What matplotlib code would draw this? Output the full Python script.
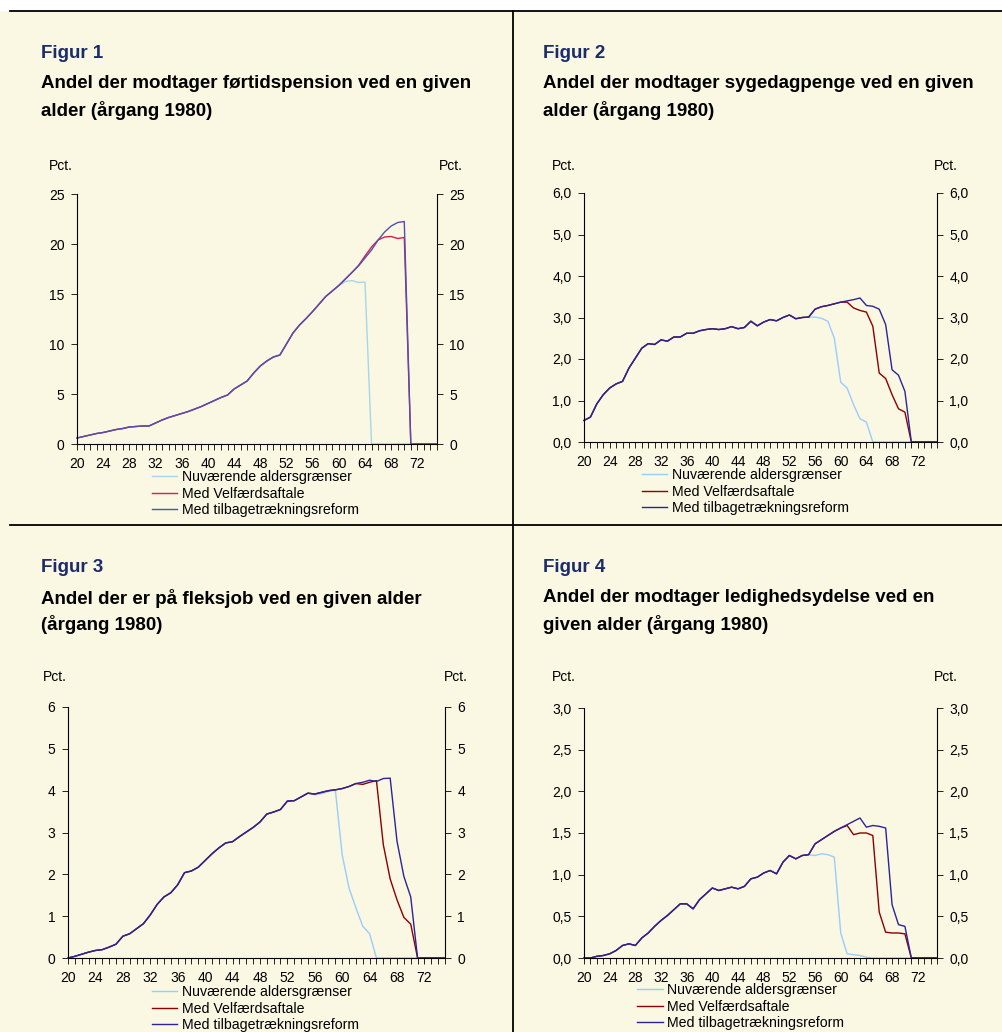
import matplotlib
matplotlib.use("Agg")
import matplotlib.pyplot as plt
from matplotlib.lines import Line2D
from matplotlib.patches import Rectangle
from matplotlib.ticker import FuncFormatter

plt.rcParams["font.family"] = ["Liberation Sans", "DejaVu Sans"]

W, H = 1003, 1032
CREAM = "#FAF8E2"
NAVY = "#1B2C6B"

# --- data, ages 20..75 ---
ages = list(range(20, 76))
series_names = ["Nuværende aldersgrænser", "Med Velfærdsaftale",
                "Med tilbagetrækningsreform"]

# Figur 1: førtidspension
fp_now = [0.6, 0.75, 0.9, 1.05, 1.15, 1.3, 1.45, 1.55, 1.7, 1.75,
          1.8, 1.8, 2.1, 2.4, 2.65, 2.85, 3.05, 3.25, 3.5, 3.75,
          4.05, 4.35, 4.65, 4.9, 5.5, 5.9, 6.3, 7.1, 7.8, 8.3,
          8.7, 8.9, 10.0, 11.1, 11.9, 12.55, 13.25, 14.0, 14.75, 15.3,
          15.85, 16.25, 16.35, 16.15, 16.2, 0, 0, 0, 0, 0,
          0, 0, 0, 0, 0, 0]
fp_velf = [0.6, 0.75, 0.9, 1.05, 1.15, 1.3, 1.45, 1.55, 1.7, 1.75,
           1.8, 1.8, 2.1, 2.4, 2.65, 2.85, 3.05, 3.25, 3.5, 3.75,
           4.05, 4.35, 4.65, 4.9, 5.5, 5.9, 6.3, 7.1, 7.8, 8.3,
           8.7, 8.9, 10.0, 11.1, 11.9, 12.55, 13.25, 14.0, 14.75, 15.3,
           15.85, 16.5, 17.15, 17.85, 18.8, 19.7, 20.4, 20.7, 20.75, 20.55,
           20.65, 0, 0, 0, 0, 0]
fp_reform = [0.6, 0.75, 0.9, 1.05, 1.15, 1.3, 1.45, 1.55, 1.7, 1.75,
             1.8, 1.8, 2.1, 2.4, 2.65, 2.85, 3.05, 3.25, 3.5, 3.75,
             4.05, 4.35, 4.65, 4.9, 5.5, 5.9, 6.3, 7.1, 7.8, 8.3,
             8.7, 8.9, 10.0, 11.1, 11.9, 12.55, 13.25, 14.0, 14.75, 15.3,
             15.85, 16.5, 17.15, 17.8, 18.6, 19.4, 20.4, 21.2, 21.8, 22.15,
             22.25, 0, 0, 0, 0, 0]

# Figur 2: sygedagpenge
sd_now = [0.52, 0.6, 0.92, 1.14, 1.3, 1.4, 1.46, 1.78, 2.02, 2.26,
          2.37, 2.35, 2.46, 2.43, 2.53, 2.53, 2.62, 2.62, 2.68, 2.71,
          2.73, 2.71, 2.73, 2.78, 2.73, 2.76, 2.91, 2.8, 2.89, 2.95,
          2.92, 3.0, 3.06, 2.97, 3.0, 3.01, 3.01, 2.98, 2.91, 2.5,
          1.44, 1.3, 0.9, 0.56, 0.48, 0, 0, 0, 0, 0,
          0, 0, 0, 0, 0, 0]
sd_velf = [0.52, 0.6, 0.92, 1.14, 1.3, 1.4, 1.46, 1.78, 2.02, 2.26,
           2.37, 2.35, 2.46, 2.43, 2.53, 2.53, 2.62, 2.62, 2.68, 2.71,
           2.73, 2.71, 2.73, 2.78, 2.73, 2.76, 2.91, 2.8, 2.89, 2.95,
           2.92, 3.0, 3.06, 2.97, 3.0, 3.01, 3.2, 3.26, 3.29, 3.33,
           3.37, 3.37, 3.23, 3.17, 3.13, 2.79, 1.66, 1.53, 1.14, 0.8,
           0.72, 0, 0, 0, 0, 0]
sd_reform = [0.52, 0.6, 0.92, 1.14, 1.3, 1.4, 1.46, 1.78, 2.02, 2.26,
             2.37, 2.35, 2.46, 2.43, 2.53, 2.53, 2.62, 2.62, 2.68, 2.71,
             2.73, 2.71, 2.73, 2.78, 2.73, 2.76, 2.91, 2.8, 2.89, 2.95,
             2.92, 3.0, 3.06, 2.97, 3.0, 3.01, 3.2, 3.26, 3.29, 3.33,
             3.37, 3.4, 3.43, 3.47, 3.29, 3.27, 3.2, 2.83, 1.74, 1.61,
             1.22, 0, 0, 0, 0, 0]

# Figur 3: fleksjob
fj_now = [0, 0.04, 0.09, 0.14, 0.18, 0.2, 0.26, 0.33, 0.52, 0.58,
          0.7, 0.82, 1.03, 1.28, 1.46, 1.56, 1.75, 2.04, 2.08, 2.17,
          2.33, 2.49, 2.63, 2.75, 2.78, 2.9, 3.01, 3.12, 3.25, 3.44,
          3.49, 3.55, 3.75, 3.76, 3.85, 3.94, 3.9, 3.93, 3.98, 4.02,
          2.47, 1.67, 1.2, 0.76, 0.58, 0, 0, 0, 0, 0,
          0, 0, 0, 0, 0, 0]
fj_velf = [0, 0.04, 0.09, 0.14, 0.18, 0.2, 0.26, 0.33, 0.52, 0.58,
           0.7, 0.82, 1.03, 1.28, 1.46, 1.56, 1.75, 2.04, 2.08, 2.17,
           2.33, 2.49, 2.63, 2.75, 2.78, 2.9, 3.01, 3.12, 3.25, 3.44,
           3.49, 3.55, 3.75, 3.76, 3.85, 3.94, 3.92, 3.96, 4.0, 4.02,
           4.05, 4.1, 4.17, 4.15, 4.2, 4.24, 2.71, 1.89, 1.39, 0.97,
           0.81, 0, 0, 0, 0, 0]
fj_reform = [0, 0.04, 0.09, 0.14, 0.18, 0.2, 0.26, 0.33, 0.52, 0.58,
             0.7, 0.82, 1.03, 1.28, 1.46, 1.56, 1.75, 2.04, 2.08, 2.17,
             2.33, 2.49, 2.63, 2.75, 2.78, 2.9, 3.01, 3.12, 3.25, 3.44,
             3.49, 3.55, 3.75, 3.76, 3.85, 3.94, 3.92, 3.96, 4.0, 4.02,
             4.05, 4.1, 4.17, 4.2, 4.25, 4.22, 4.29, 4.3, 2.79, 1.95,
             1.46, 0, 0, 0, 0, 0]

# Figur 4: ledighedsydelse
ly_now = [0, 0, 0.02, 0.03, 0.05, 0.09, 0.15, 0.17, 0.15, 0.24,
          0.3, 0.38, 0.45, 0.51, 0.58, 0.65, 0.65, 0.59, 0.7, 0.77,
          0.84, 0.81, 0.83, 0.85, 0.83, 0.86, 0.95, 0.97, 1.02, 1.05,
          1.01, 1.15, 1.23, 1.19, 1.23, 1.24, 1.23, 1.25, 1.24, 1.21,
          0.3, 0.05, 0.04, 0.03, 0.01, 0, 0, 0, 0, 0,
          0, 0, 0, 0, 0, 0]
ly_velf = [0, 0, 0.02, 0.03, 0.05, 0.09, 0.15, 0.17, 0.15, 0.24,
           0.3, 0.38, 0.45, 0.51, 0.58, 0.65, 0.65, 0.59, 0.7, 0.77,
           0.84, 0.81, 0.83, 0.85, 0.83, 0.86, 0.95, 0.97, 1.02, 1.05,
           1.01, 1.15, 1.23, 1.19, 1.23, 1.24, 1.37, 1.42, 1.47, 1.52,
           1.56, 1.59, 1.48, 1.5, 1.5, 1.47, 0.55, 0.31, 0.3, 0.3,
           0.29, 0, 0, 0, 0, 0]
ly_reform = [0, 0, 0.02, 0.03, 0.05, 0.09, 0.15, 0.17, 0.15, 0.24,
             0.3, 0.38, 0.45, 0.51, 0.58, 0.65, 0.65, 0.59, 0.7, 0.77,
             0.84, 0.81, 0.83, 0.85, 0.83, 0.86, 0.95, 0.97, 1.02, 1.05,
             1.01, 1.15, 1.23, 1.19, 1.23, 1.24, 1.37, 1.42, 1.47, 1.52,
             1.56, 1.6, 1.64, 1.68, 1.57, 1.59, 1.58, 1.56, 0.64, 0.4,
             0.38, 0, 0, 0, 0, 0]

COLORS_1 = ["#A6D6EC", "#D02050", "#5050B0"]
COLORS_2 = ["#99CCFF", "#8B0000", "#2B2499"]

fig = plt.figure(figsize=(W / 100, H / 100), dpi=100, facecolor="white")

# cream background and the black frame lines
fig.add_artist(Rectangle((0, 0), 1, 1 - 11 / H, transform=fig.transFigure,
                         facecolor=CREAM, edgecolor="none", zorder=0))
for xs, ys in [([10, W], [11, 11]), ([10, W], [525, 525]), ([513, 513], [11, H])]:
    fig.add_artist(Line2D([x / W for x in xs], [1 - y / H for y in ys],
                          transform=fig.transFigure, color="black", lw=1.3))


def comma(v, pos):
    return f"{v:.1f}".replace(".", ",")


def draw_panel(box, data, colors, ymax, ystep, decimals, fig_label, title,
               head_x, head_y, pct_left, pct_right, pct_y, leg_xy):
    x0, y0, x1, y1 = box
    ax = fig.add_axes([x0 / W, 1 - y1 / H, (x1 - x0) / W, (y1 - y0) / H])
    ax.set_facecolor("none")
    for vals, col in zip(data, colors):
        ax.plot(ages, vals, color=col, lw=1.0, clip_on=False)
    ax.set_xlim(20, 75)
    ax.set_ylim(0, ymax)
    ax.spines["top"].set_visible(False)
    for s in ["left", "right", "bottom"]:
        ax.spines[s].set_linewidth(0.8)
    ax.set_xticks(ages)
    ax.set_xticklabels([str(a) if (a - 20) % 4 == 0 and a <= 72 else "" for a in ages])
    yt = [i * ystep for i in range(int(round(ymax / ystep)) + 1)]
    ax.set_yticks(yt)
    if decimals:
        ax.yaxis.set_major_formatter(FuncFormatter(comma))
    else:
        ax.yaxis.set_major_formatter(FuncFormatter(lambda v, p: f"{v:.0f}"))
    ax.tick_params(axis="x", direction="out", length=4, width=0.6,
                   labelsize=10, pad=5)
    ax.tick_params(axis="y", direction="out", length=4, width=0.6,
                   left=True, right=True, labelleft=True, labelright=True,
                   labelsize=10, pad=5)

    fig.text(head_x / W, 1 - head_y / H, fig_label, color=NAVY,
             fontsize=13.5, fontweight="bold", va="center", ha="left")
    fig.text(head_x / W, 1 - (head_y + 30) / H, title[0], color="black",
             fontsize=13.5, fontweight="bold", va="center", ha="left")
    fig.text(head_x / W, 1 - (head_y + 57) / H, title[1], color="black",
             fontsize=13.5, fontweight="bold", va="center", ha="left")
    fig.text(pct_left / W, 1 - pct_y / H, "Pct.", fontsize=10,
             va="center", ha="left")
    fig.text(pct_right / W, 1 - pct_y / H, "Pct.", fontsize=10,
             va="center", ha="right")

    handles = [Line2D([], [], color=c, lw=1.0) for c in colors]
    ax.legend(handles, series_names, loc="upper left",
              bbox_to_anchor=(leg_xy[0] / W, 1 - leg_xy[1] / H),
              bbox_transform=fig.transFigure, frameon=False, fontsize=10.2,
              handlelength=1.8, handletextpad=0.3, labelspacing=0.18,
              borderpad=0, borderaxespad=0)
    return ax


draw_panel((77, 194, 437, 444), [fp_now, fp_velf, fp_reform], COLORS_1,
           25, 5, False, "Figur 1",
           ["Andel der modtager førtidspension ved en given", "alder (årgang 1980)"],
           41, 53, 49, 463, 166, (152, 470))
draw_panel((584, 193, 937, 442), [sd_now, sd_velf, sd_reform], COLORS_2,
           6, 1, True, "Figur 2",
           ["Andel der modtager sygedagpenge ved en given", "alder (årgang 1980)"],
           543, 53, 552, 958, 166, (642, 468))
draw_panel((68, 707, 445, 958), [fj_now, fj_velf, fj_reform], COLORS_2,
           6, 1, False, "Figur 3",
           ["Andel der er på fleksjob ved en given alder", "(årgang 1980)"],
           41, 568, 43, 468, 677, (152, 985))
draw_panel((584, 708, 937, 958), [ly_now, ly_velf, ly_reform], COLORS_2,
           3, 0.5, True, "Figur 4",
           ["Andel der modtager ledighedsydelse ved en", "given alder (årgang 1980)"],
           543, 568, 552, 958, 677, (637, 983))

fig.savefig("out.png", dpi=100, facecolor="white")
